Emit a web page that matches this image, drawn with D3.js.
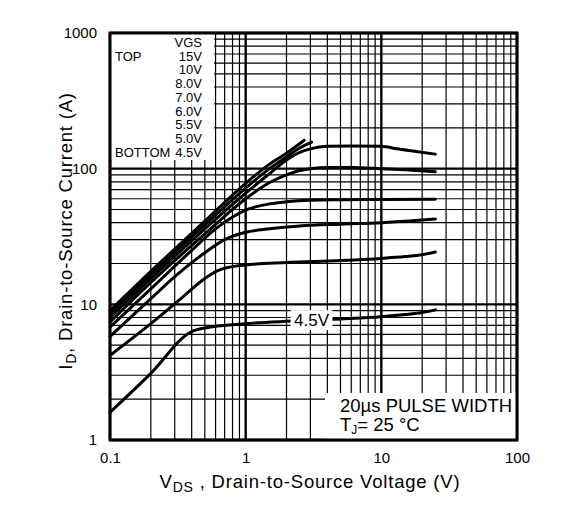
<!DOCTYPE html>
<html lang="en">
<head>
  <meta charset="UTF-8">
  <title>Typical Output Characteristics</title>
  <style>
    body { margin: 0; background: #ffffff; }
    svg { display: block; font-family: "Liberation Sans", Arial, sans-serif; }
  </style>
</head>
<body>
  <svg id="chart"></svg>

  <script src="https://d3js.org/d3.v7.min.js"></script>
  <script>
    const width = 563;
    const height = 515;

    // VGS curves, top to bottom
    const gateLabels = ["15V", "10V", "8.0V", "7.0V", "6.0V", "5.5V", "5.0V", "4.5V"];

    const vds15 = [0.1, 0.2, 0.5, 1, 1.5, 2, 2.7];
    const id15  = [9.0, 17.5, 41, 78, 108, 130, 162];

    const vds10 = [0.1, 0.2, 0.5, 1, 1.5, 2, 2.5, 3.06];
    const id10  = [8.5, 16.5, 38.5, 72, 100, 122, 142, 157];

    const vds8 = [0.1, 0.2, 0.5, 1, 1.5, 2, 2.5, 3, 4, 6, 10, 13, 18, 25];
    const id8  = [8.0, 15.5, 36, 66, 92, 116, 132, 140, 146, 147, 146, 140, 134, 128];

    const vds7 = [0.1, 0.2, 0.5, 1, 1.5, 2, 2.5, 3, 4, 6, 10, 15, 25];
    const id7  = [7.4, 14.5, 33, 60, 79, 90, 97, 100, 102, 102, 100, 98, 95];

    const vds6 = [0.1, 0.2, 0.4, 0.6, 0.8, 1, 1.5, 2, 3, 5, 10, 25];
    const id6  = [6.8, 13, 25, 36, 44, 49.5, 55, 57, 58.5, 59, 59.3, 59.5];

    const vds55 = [0.1, 0.2, 0.3, 0.5, 0.7, 1, 1.5, 2.5, 5, 10, 15, 25];
    const id55  = [5.8, 11, 16, 24, 30, 34, 36, 37.8, 39, 40, 41, 42.5];

    const vds5 = [0.1, 0.2, 0.35, 0.5, 0.65, 1, 2, 5, 10, 15, 20, 25];
    const id5  = [4.2, 7.2, 11.5, 15.5, 18, 19.5, 20.3, 21, 21.8, 22.5, 23.2, 24.3];

    const vds45 = [0.1, 0.2, 0.4, 0.5, 1, 2, 5, 10, 15, 20, 25];
    const id45  = [1.6, 3.1, 6.3, 6.7, 7.2, 7.5, 7.8, 8.1, 8.4, 8.7, 9.1];

    const xTicks = [0.1, 1, 10, 100];
    const yTicks = [1, 10, 100, 1000];

    const curves = [
      [vds15, id15], [vds10, id10], [vds8, id8], [vds7, id7],
      [vds6, id6], [vds55, id55], [vds5, id5], [vds45, id45]
    ].map(([v, i], k) => ({ label: gateLabels[k], points: v.map((d, j) => ({ v: d, i: i[j] })) }));

    const margin = { top: 33, right: 46, bottom: 75, left: 110 };
    const plotW = width - margin.left - margin.right;
    const plotH = height - margin.top - margin.bottom;

    const svg = d3.select("#chart").attr("width", width).attr("height", height);
    svg.append("rect").attr("width", width).attr("height", height).attr("fill", "#fff");

    const x = d3.scaleLog().domain([0.1, 100]).range([margin.left, margin.left + plotW]);
    const y = d3.scaleLog().domain([1, 1000]).range([margin.top + plotH, margin.top]);

    const isMajor = d => Math.abs(Math.log10(d) - Math.round(Math.log10(d))) < 1e-9;

    // grid
    const grid = svg.append("g");
    grid.selectAll(".vx").data(x.ticks()).enter().append("line")
      .attr("x1", d => x(d)).attr("x2", d => x(d))
      .attr("y1", margin.top).attr("y2", margin.top + plotH)
      .attr("stroke", "#000").attr("stroke-width", d => isMajor(d) ? 2.4 : 1.2);
    grid.selectAll(".hy").data(y.ticks()).enter().append("line")
      .attr("y1", d => y(d)).attr("y2", d => y(d))
      .attr("x1", margin.left).attr("x2", margin.left + plotW)
      .attr("stroke", "#000").attr("stroke-width", d => isMajor(d) ? 2.4 : 1.2);

    // white boxes over the grid
    svg.append("rect").attr("x", margin.left).attr("y", margin.top)
      .attr("width", 104).attr("height", 127).attr("fill", "#fff");
    svg.append("rect").attr("x", 325).attr("y", 393)
      .attr("width", margin.left + plotW - 325).attr("height", margin.top + plotH - 393).attr("fill", "#fff");

    // curves
    const line = d3.line()
      .x(d => x(d.v)).y(d => y(d.i))
      .curve(d3.curveMonotoneX);

    svg.append("g").selectAll("path").data(curves).enter().append("path")
      .attr("d", d => line(d.points))
      .attr("fill", "none")
      .attr("stroke", "#000")
      .attr("stroke-width", 3)
      .attr("stroke-linecap", "round");

    // 4.5V label on its curve
    const labelV = 3.06;
    const labelI = 7.65;
    const lbl = svg.append("g").attr("transform", `translate(${x(labelV)},${y(labelI)})`);
    lbl.append("rect").attr("x", -21).attr("y", -10).attr("width", 42).attr("height", 20).attr("fill", "#fff");
    lbl.append("text").attr("text-anchor", "middle").attr("dy", "0.36em")
      .style("font-size", "17px").text(gateLabels[7]);

    // frame
    svg.append("rect").attr("x", margin.left).attr("y", margin.top)
      .attr("width", plotW).attr("height", plotH)
      .attr("fill", "none").attr("stroke", "#000").attr("stroke-width", 3);

    // legend
    const legend = svg.append("g").style("font-size", "13px");
    const rowH = 13.7;
    legend.append("text").attr("x", 202).attr("y", 47).attr("text-anchor", "end").text("VGS");
    gateLabels.forEach((g, k) => {
      legend.append("text").attr("x", 202).attr("y", 47 + rowH * (k + 1)).attr("text-anchor", "end").text(g);
    });
    legend.append("text").attr("x", 115).attr("y", 47 + rowH).text("TOP");
    legend.append("text").attr("x", 115).attr("y", 47 + rowH * 8).text("BOTTOM");

    // conditions note
    const note = svg.append("g").style("font-size", "18.5px");
    note.append("text").attr("x", 340).attr("y", 412).text("20\u00b5s PULSE WIDTH");
    const tj = note.append("text").attr("x", 340).attr("y", 431);
    tj.append("tspan").text("T");
    tj.append("tspan").attr("dy", 3).style("font-size", "12px").text("J");
    tj.append("tspan").attr("dy", -3).text("= 25 \u00b0C");

    // axes
    const xAxis = svg.append("g")
      .attr("transform", `translate(0,${margin.top + plotH})`)
      .call(d3.axisBottom(x).tickValues(xTicks).tickFormat(d3.format("~g")).tickSize(0).tickPadding(12));
    xAxis.select(".domain").remove();
    xAxis.selectAll("text").style("font-size", "15px").style("font-family", "inherit");

    const yAxis = svg.append("g")
      .attr("transform", `translate(${margin.left},0)`)
      .call(d3.axisLeft(y).tickValues(yTicks).tickFormat(d3.format("~g")).tickSize(0).tickPadding(13));
    yAxis.select(".domain").remove();
    yAxis.selectAll("text").style("font-size", "15px").style("font-family", "inherit");

    // axis titles
    const xt = svg.append("text").attr("x", 310).attr("y", 488)
      .attr("text-anchor", "middle").style("font-size", "18.5px").style("letter-spacing", "0.8px");
    xt.append("tspan").text("V");
    xt.append("tspan").attr("dy", 4).style("font-size", "14px").text("DS");
    xt.append("tspan").attr("dy", -4).text(" , Drain-to-Source Voltage (V)");

    const yt = svg.append("text").attr("transform", "translate(72,231) rotate(-90)")
      .attr("text-anchor", "middle").style("font-size", "18.5px").style("letter-spacing", "0.8px");
    yt.append("tspan").text("I");
    yt.append("tspan").attr("dy", 4).style("font-size", "14px").text("D");
    yt.append("tspan").attr("dy", -4).text(",  Drain-to-Source Current (A)");
  </script>
</body>
</html>
